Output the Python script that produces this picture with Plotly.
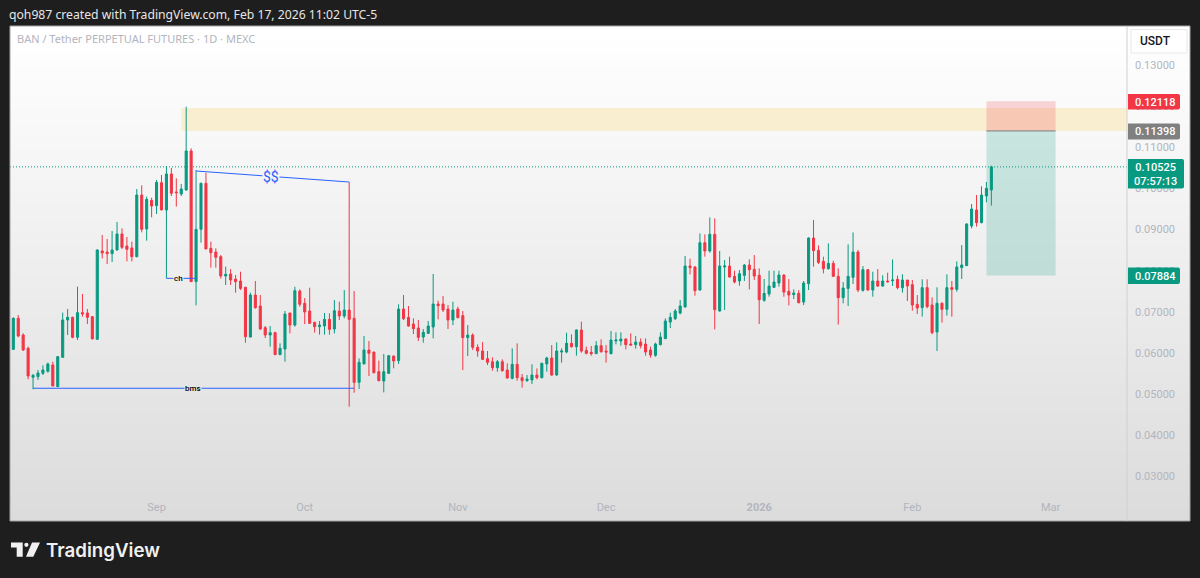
import pandas as pd
import plotly.graph_objects as go

W, H = 1200, 578
L, R, T, B = 10, 1127, 26, 521

first_day = "2025-08-03"
opens = [
0.06091,0.06844,0.06439,0.06115,0.05411,0.05427,0.05508,0.05557,0.05710,0.05184,
0.05897,0.06804,0.06869,0.06383,0.06982,0.06974,0.06885,0.06334,0.08481,0.08456,
0.08416,0.08505,0.08894,0.08602,0.08554,0.08343,0.09841,0.09015,0.09712,0.09582,
0.10141,0.09477,0.10352,0.09914,0.09866,0.09963,0.10911,0.07735,0.09007,0.10125,
0.08545,0.08456,0.08343,0.07873,0.07921,0.07799,0.07751,0.07597,0.06390,0.07410,
0.07143,0.06617,0.06438,0.06495,0.05961,0.06098,0.06973,0.06681,0.07508,0.07208,
0.07022,0.06746,0.06641,0.06657,0.06819,0.06584,0.07022,0.06900,0.07046,0.06843,
0.05288,0.05734,0.06074,0.06025,0.05547,0.05321,0.05507,0.05928,0.05815,0.07070,
0.06868,0.06706,0.06609,0.06390,0.06479,0.06633,0.07192,0.07192,0.07070,0.06803,
0.07070,0.06908,0.06374,0.06438,0.06139,0.06050,0.05863,0.05790,0.05645,0.05790,
0.05588,0.05385,0.05726,0.05402,0.05329,0.05345,0.05466,0.05402,0.05734,0.05880,
0.05466,0.06025,0.06025,0.06236,0.06155,0.06560,0.06066,0.06017,0.05985,0.06179,
0.06050,0.05985,0.06293,0.06293,0.06341,0.06220,0.06204,0.06268,0.06220,0.06074,
0.05944,0.06204,0.06349,0.06754,0.06835,0.06973,0.07119,0.08115,0.08091,0.07532,
0.08682,0.08480,0.08885,0.07022,0.08091,0.08115,0.07864,0.07751,0.07888,0.08139,
0.08034,0.07888,0.07281,0.07435,0.07597,0.07702,0.07896,0.07500,0.07419,0.07451,
0.07240,0.07686,0.08796,0.08496,0.08229,0.08050,0.08180,0.07864,0.07346,0.07572,
0.07840,0.08455,0.07524,0.08026,0.07532,0.07751,0.07629,0.07751,0.07759,0.07791,
0.07589,0.07775,0.07662,0.07184,0.07104,0.07590,0.07168,0.06512,0.07209,0.07063,
0.07590,0.07549,0.08076,0.08124,0.09088,0.09477,0.09169,0.09817,0.09963]
highs = [
0.06869,0.06925,0.06480,0.06156,0.05492,0.05589,0.05702,0.05767,0.05791,0.05929,
0.06982,0.07071,0.06885,0.07614,0.07436,0.07071,0.06901,0.08521,0.08869,0.08772,
0.08967,0.09185,0.09031,0.08821,0.08707,0.09987,0.10076,0.09801,0.09777,0.10206,
0.10327,0.10546,0.10498,0.10246,0.10109,0.11988,0.10975,0.10449,0.10141,0.10384,
0.08707,0.08545,0.08383,0.08100,0.08042,0.07896,0.07977,0.07613,0.07467,0.07751,
0.07410,0.06657,0.06657,0.06519,0.06236,0.07022,0.06981,0.07613,0.07548,0.07338,
0.07589,0.06762,0.06779,0.06973,0.06965,0.07289,0.07248,0.07532,0.10157,0.07508,
0.05871,0.06414,0.06293,0.06033,0.05815,0.05977,0.05952,0.05936,0.07184,0.07410,
0.07143,0.06843,0.06803,0.06584,0.06779,0.07921,0.07273,0.07386,0.07167,0.07248,
0.07127,0.07022,0.06681,0.06479,0.06212,0.06268,0.06050,0.05896,0.05831,0.05847,
0.05750,0.06114,0.06236,0.05491,0.05466,0.05726,0.05628,0.05766,0.05912,0.06195,
0.06260,0.06114,0.06495,0.06455,0.06576,0.06762,0.06155,0.06171,0.06293,0.06333,
0.06195,0.06536,0.06503,0.06503,0.06357,0.06479,0.06414,0.06357,0.06357,0.06155,
0.06252,0.06503,0.06843,0.06981,0.07070,0.07289,0.08358,0.08293,0.08115,0.08909,
0.08885,0.09298,0.09273,0.08480,0.08261,0.08342,0.08002,0.08018,0.08164,0.08277,
0.08382,0.08058,0.07799,0.08002,0.08002,0.08002,0.07913,0.07799,0.07548,0.07532,
0.07751,0.08812,0.09233,0.08617,0.08342,0.08666,0.08245,0.08058,0.07726,0.08642,
0.08933,0.08504,0.08115,0.08042,0.07977,0.08042,0.07888,0.07953,0.08277,0.07880,
0.07913,0.07775,0.07775,0.07410,0.07792,0.07792,0.07355,0.07598,0.07233,0.07914,
0.07752,0.08230,0.08626,0.09153,0.09623,0.09841,0.10052,0.10157,0.10552]
lows = [
0.06075,0.06383,0.06051,0.05362,0.05119,0.05346,0.05467,0.05524,0.05200,0.05184,
0.05881,0.06439,0.06358,0.06318,0.06885,0.06707,0.06342,0.06318,0.08302,0.08165,
0.08213,0.08489,0.08529,0.08230,0.08230,0.08327,0.08934,0.08732,0.09299,0.09380,
0.09477,0.07816,0.09817,0.09558,0.09817,0.09947,0.07735,0.07160,0.08683,0.08529,
0.08076,0.08076,0.07808,0.07654,0.07653,0.07467,0.07532,0.06252,0.06382,0.07078,
0.06560,0.06366,0.06155,0.05952,0.05952,0.05790,0.06479,0.06641,0.07127,0.06706,
0.06706,0.06495,0.06447,0.06447,0.06447,0.06479,0.06803,0.06843,0.04697,0.05037,
0.05126,0.05734,0.05442,0.05507,0.05313,0.05045,0.05491,0.05628,0.05734,0.06803,
0.06641,0.06463,0.06293,0.06252,0.06463,0.06357,0.06819,0.06997,0.06584,0.06681,
0.06843,0.05588,0.05928,0.06074,0.05912,0.05831,0.05709,0.05572,0.05547,0.05547,
0.05377,0.05361,0.05329,0.05159,0.05304,0.05248,0.05361,0.05385,0.05547,0.05450,
0.05450,0.05766,0.05993,0.06131,0.05936,0.06009,0.05969,0.05936,0.05977,0.06009,
0.05766,0.05969,0.06212,0.06179,0.06090,0.06179,0.06106,0.06114,0.05936,0.05888,
0.05912,0.06187,0.06341,0.06609,0.06803,0.06941,0.07111,0.07913,0.07394,0.07516,
0.08342,0.08439,0.06576,0.07005,0.07046,0.07832,0.07694,0.07637,0.07751,0.07548,
0.07775,0.06706,0.07248,0.07370,0.07581,0.07613,0.07370,0.07159,0.07313,0.07208,
0.07167,0.07532,0.08099,0.08164,0.07937,0.08026,0.07848,0.06690,0.07208,0.07143,
0.07678,0.07483,0.07491,0.07516,0.07370,0.07605,0.07613,0.07710,0.07629,0.07548,
0.07467,0.07265,0.07030,0.06949,0.06885,0.07087,0.06456,0.06051,0.06739,0.06909,
0.06885,0.07492,0.07800,0.08116,0.09031,0.09072,0.09153,0.09663,0.09582]
closes = [
0.06844,0.06415,0.06075,0.05443,0.05459,0.05516,0.05589,0.05735,0.05200,0.05913,
0.06804,0.06869,0.06383,0.06982,0.06950,0.06869,0.06342,0.08505,0.08432,0.08416,
0.08505,0.08894,0.08570,0.08521,0.08343,0.09841,0.09007,0.09736,0.09574,0.10149,
0.09477,0.10352,0.09882,0.09898,0.09987,0.10911,0.07735,0.09007,0.10125,0.08529,
0.08440,0.08327,0.07873,0.07914,0.07775,0.07734,0.07572,0.06398,0.07410,0.07103,
0.06584,0.06438,0.06495,0.05961,0.06114,0.06949,0.06681,0.07516,0.07184,0.06997,
0.06722,0.06641,0.06681,0.06819,0.06576,0.07030,0.06900,0.07046,0.06819,0.05288,
0.05774,0.06074,0.05993,0.05523,0.05329,0.05547,0.05936,0.05807,0.07070,0.06835,
0.06657,0.06592,0.06382,0.06503,0.06657,0.07192,0.07151,0.07046,0.06803,0.07046,
0.06860,0.06374,0.06438,0.06139,0.06050,0.05847,0.05774,0.05645,0.05790,0.05572,
0.05394,0.05726,0.05402,0.05329,0.05369,0.05466,0.05402,0.05750,0.05880,0.05466,
0.06050,0.06050,0.06236,0.06155,0.06560,0.06050,0.05993,0.05985,0.06179,0.06033,
0.06025,0.06317,0.06317,0.06341,0.06204,0.06195,0.06268,0.06179,0.06025,0.05952,
0.06220,0.06390,0.06779,0.06868,0.07022,0.07143,0.08115,0.08075,0.07516,0.08682,
0.08480,0.08885,0.07054,0.08115,0.08115,0.07848,0.07726,0.07929,0.08139,0.08026,
0.07872,0.07297,0.07451,0.07629,0.07726,0.07896,0.07483,0.07410,0.07459,0.07224,
0.07702,0.08796,0.08488,0.08204,0.08050,0.08180,0.07864,0.07346,0.07581,0.07864,
0.08455,0.07532,0.08026,0.07532,0.07751,0.07629,0.07751,0.07734,0.07775,0.07589,
0.07775,0.07629,0.07167,0.07095,0.07590,0.07128,0.06496,0.07209,0.07063,0.07590,
0.07549,0.08092,0.08140,0.09137,0.09501,0.09169,0.09841,0.10003,0.10525]

y_ticks = [0.03, 0.04, 0.05, 0.06, 0.07, 0.08, 0.09, 0.10, 0.11, 0.12, 0.13]
month_ticks = ["2025-09-01", "2025-10-01", "2025-11-01", "2025-12-01", "2026-01-01", "2026-02-01", "2026-03-01"]
month_text = ["Sep", "Oct", "Nov", "Dec", "<b>2026</b>", "Feb", "Mar"]

# drawings
zone_top, zone_bottom = 0.11955, 0.11396
zone_start = "2025-09-06"
pos_start, pos_end = "2026-02-16", "2026-03-02"
stop_price, entry_price, target_price, last_price = 0.12118, 0.11398, 0.07884, 0.10525
bms_price, bms_start, bms_end, bms_mid = 0.05145, "2025-08-07", "2025-10-11", "2025-09-08 10:00"
ch_price, ch_start, ch_end, ch_mid = 0.07816, "2025-09-03", "2025-09-09", "2025-09-05 12:00"
dollar_start, dollar_end = ("2025-09-09", 0.10424), ("2025-10-10", 0.10157)
dollar_mid = ("2025-09-24 06:00", 0.10290)

UP, DOWN = "#089981", "#F23645"
BLUE = "#2962FF"
GRAY = "#B2B5BE"
DARK = "#1E1E1E"
FONT = "Roboto"

def px(x):
    return (x - L) / (R - L)

def py(y):
    return (B - y) / (B - T)

def path_px(points):
    return "M" + " L".join(f"{px(x):.5f},{py(y):.5f}" for x, y in points) + " Z"

def tag(x0, y0, x1, y1, color):
    r = 2
    p = (f"M{px(x0):.5f},{py(y0):.5f} L{px(x1-r):.5f},{py(y0):.5f} "
         f"Q{px(x1):.5f},{py(y0):.5f} {px(x1):.5f},{py(y0+r):.5f} "
         f"L{px(x1):.5f},{py(y1-r):.5f} Q{px(x1):.5f},{py(y1):.5f} {px(x1-r):.5f},{py(y1):.5f} "
         f"L{px(x0):.5f},{py(y1):.5f} Z")
    return dict(type="path", xref="paper", yref="paper", path=p, fillcolor=color, line_width=0, layer="above")

dates = pd.date_range(first_day, periods=len(opens), freq="D")

fig = go.Figure(go.Candlestick(
    x=dates, open=opens, high=highs, low=lows, close=closes,
    increasing=dict(line=dict(color=UP, width=1), fillcolor=UP),
    decreasing=dict(line=dict(color=DOWN, width=1), fillcolor=DOWN),
    whiskerwidth=0, hoverinfo="skip", showlegend=False,
))

shapes = []
# pane gradient, painted top-down with each band running to the bottom so no seams show
levels = 36
for k in range(levels):
    g = 255 - k
    shapes.append(dict(type="rect", xref="paper", yref="paper", layer="below", line_width=0,
                       x0=0, x1=px(1190), y1=1 - k / levels, y0=0,
                       fillcolor=f"rgb({g},{g},{g})"))
# zone and position tool
shapes.append(dict(type="rect", xref="x", yref="y", layer="below", line_width=0,
                   x0=zone_start, x1="2026-03-17", y0=zone_bottom, y1=zone_top, fillcolor="#F9EED0"))
shapes.append(dict(type="rect", xref="x", yref="y", layer="below", line_width=0,
                   x0=pos_start, x1=pos_end, y0=entry_price, y1=stop_price, fillcolor="rgba(242,54,69,0.2)"))
shapes.append(dict(type="rect", xref="x", yref="y", layer="below", line_width=0,
                   x0=pos_start, x1=pos_end, y0=target_price, y1=entry_price, fillcolor="rgba(8,153,129,0.2)"))
shapes.append(dict(type="line", xref="x", yref="y", layer="below", x0=pos_start, x1=pos_end,
                   y0=entry_price, y1=entry_price, line=dict(color="#787B86", width=1)))
# price line
shapes.append(dict(type="line", xref="paper", yref="y", layer="below", x0=0, x1=1,
                   y0=last_price, y1=last_price, line=dict(color=UP, width=1, dash="1px,2px")))
# drawings
shapes.append(dict(type="line", xref="x", yref="y", x0=bms_start, x1=bms_end, y0=bms_price, y1=bms_price,
                   line=dict(color=BLUE, width=1)))
shapes.append(dict(type="line", xref="x", yref="y", x0=ch_start, x1=ch_end, y0=ch_price, y1=ch_price,
                   line=dict(color=BLUE, width=1)))
shapes.append(dict(type="line", xref="x", yref="y", x0=dollar_start[0], x1=dollar_end[0],
                   y0=dollar_start[1], y1=dollar_end[1], line=dict(color=BLUE, width=1)))
# frame
shapes.append(dict(type="rect", xref="paper", yref="paper", layer="above", x0=0, x1=px(1190), y0=0, y1=1,
                   line=dict(color="#A4A4A4", width=1), fillcolor="rgba(0,0,0,0)"))
shapes.append(dict(type="line", xref="paper", yref="paper", layer="above", x0=1, x1=1, y0=0, y1=1,
                   line=dict(color="#D0D0D0", width=1)))
# USDT button
shapes.append(dict(type="rect", xref="paper", yref="paper", layer="above", x0=px(1131), x1=px(1187),
                   y0=py(53), y1=py(29.5), fillcolor="#FFFFFF", line=dict(color="#E8E8E8", width=1)))
# price tags
shapes.append(tag(1128, 94, 1180, 109.5, DOWN))
shapes.append(tag(1128, 123.5, 1180, 139.5, "#808080"))
shapes.append(tag(1128, 159, 1184, 188.5, UP))
shapes.append(tag(1128, 267.5, 1180, 284, UP))
# logo
LOGO = "#F0F0F0"
shapes.append(dict(type="path", xref="paper", yref="paper", line_width=0, fillcolor=LOGO,
                   path=path_px([(11, 542.5), (22.7, 542.5), (22.7, 556.7), (16.7, 556.7), (16.7, 547.5), (11, 547.5)])))
shapes.append(dict(type="circle", xref="paper", yref="paper", line_width=0, fillcolor=LOGO,
                   x0=px(24.3), x1=px(28.5), y0=py(546.9), y1=py(542.7)))
shapes.append(dict(type="path", xref="paper", yref="paper", line_width=0, fillcolor=LOGO,
                   path=path_px([(32, 542.5), (40, 542.5), (33.3, 556.7), (26, 556.7)])))


def note(text, x, y, color, size, anchor="left", weight=None, bg=None, family=FONT, xref="paper", yref="paper"):
    return dict(text=text, x=x, y=y, xref=xref, yref=yref, showarrow=False, xanchor=anchor, yanchor="middle",
                font=dict(family=family, size=size, color=color, weight=weight), bgcolor=bg, borderpad=0, align="center")


annotations = [
    note("qoh987 created with TradingView.com, Feb 17, 2026 11:02 UTC-5", px(8), py(14), "#E6E6E6", 12.2, family="Noto Sans"),
    note("BAN / Tether PERPETUAL FUTURES · 1D · MEXC", px(16), py(39), GRAY, 11, family="Noto Sans"),
    note("TradingView", px(45), py(550), "#F0F0F0", 18.7, weight=600, family="Inter"),
    note("USDT", px(1139), py(41), "#131722", 12, weight=500),
    note("0.12118", px(1155), py(102), "#FFFFFF", 11, anchor="center", weight=500),
    note("0.11398", px(1155), py(131.8), "#FFFFFF", 11, anchor="center", weight=500),
    note("0.10525<br>07:57:13", px(1155), py(174), "#FFFFFF", 11, anchor="center", weight=500),
    note("0.07884", px(1155), py(276), "#FFFFFF", 11, anchor="center", weight=500),
    note("bms", bms_mid, bms_price, "#000000", 8, anchor="center", bg="#E5E5E5", weight=500, xref="x", yref="y"),
    note("ch", ch_mid, ch_price, "#000000", 8, anchor="center", bg="#EDEDED", weight=500, xref="x", yref="y"),
    note("$$", dollar_mid[0], dollar_mid[1], BLUE, 14, anchor="center", bg="#F4F4F4", xref="x", yref="y"),
]

fig.update_layout(
    width=W, height=H, autosize=False,
    margin=dict(l=L, r=W - R, t=T, b=H - B, pad=0),
    paper_bgcolor=DARK, plot_bgcolor="rgba(0,0,0,0)",
    showlegend=False, shapes=shapes, annotations=annotations, boxgap=0.4,
    font=dict(family=FONT, color=GRAY, size=11),
    xaxis=dict(
        type="date", range=["2025-08-02 08:00", "2026-03-16 11:00"],
        rangeslider=dict(visible=False), showgrid=False, zeroline=False, showline=False,
        tickmode="array", tickvals=month_ticks, ticktext=month_text,
        ticklabelposition="inside", ticks="", tickangle=0, ticklabelstandoff=5,
        tickfont=dict(family=FONT, size=11, color=GRAY),
    ),
    yaxis=dict(
        side="right", range=[0.01919, 0.13948], showgrid=False, zeroline=False, showline=False,
        tickmode="array", tickvals=y_ticks, ticktext=[f"{v:.5f}" for v in y_ticks],
        ticks="", ticklabelstandoff=7,
        tickfont=dict(family=FONT, size=11, color=GRAY),
    ),
)

fig.write_html(
    "out.html",
    config={"displayModeBar": False},
    post_script="document.body.style.margin='0';document.body.style.background='#1E1E1E';",
)
